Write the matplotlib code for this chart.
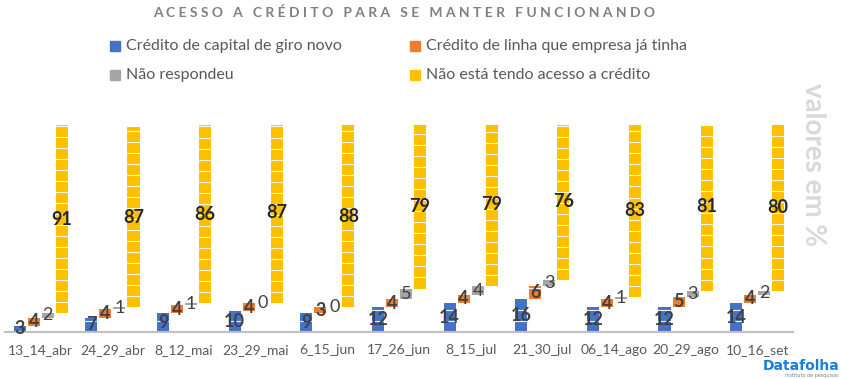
import matplotlib
matplotlib.use("Agg")
import matplotlib.pyplot as plt
from matplotlib.patches import Rectangle
import numpy as np

categories = ["13_14_abr", "24_29_abr", "8_12_mai", "23_29_mai", "6_15_jun", "17_26_jun",
              "8_15_jul", "21_30_jul", "06_14_ago", "20_29_ago", "10_16_set"]
capital_giro = [3, 7, 9, 10, 9, 12, 14, 16, 12, 12, 14]
linha_existente = [4, 4, 4, 4, 3, 4, 4, 6, 4, 5, 4]
nao_respondeu = [2, 1, 1, 0, 0, 5, 4, 3, 1, 3, 2]
sem_acesso = [91, 87, 86, 87, 88, 79, 79, 76, 83, 81, 80]

series_names = ["Crédito de capital de giro novo", "Crédito de linha que empresa já tinha",
                "Não respondeu", "Não está tendo acesso a crédito"]
colors = ["#4472C4", "#ED7D31", "#A5A5A5", "#FFC000"]

plt.rcParams['font.family'] = ['Lato', 'DejaVu Sans']

W, H = 841, 379
fig = plt.figure(figsize=(W / 100, H / 100), dpi=100)
ax = fig.add_axes([5 / W, (H - 332) / H, 788 / W, 207 / H])
ax.set_xlim(-0.5, len(categories) - 0.5)
ax.set_ylim(0, 100)

x = np.arange(len(categories))
step = 0.196
bw = 0.168
unit = 5.33  # picture stacking unit (decorative separators)

data = [capital_giro, linha_existente, nao_respondeu, sem_acesso]
bottom = np.zeros(len(categories))
for s, (vals, col) in enumerate(zip(data, colors)):
    vals = np.array(vals, dtype=float)
    xs = x + (s - 1.5) * step
    ax.bar(xs, vals, bw, bottom=bottom, color=col, edgecolor="none", zorder=2)
    for xi, b, v in zip(xs, bottom, vals):
        k = 1
        while k * unit < v - 0.3:
            ax.plot([xi - bw / 2, xi + bw / 2], [b + k * unit] * 2, color="white", lw=0.8,
                    alpha=0.9, zorder=3)
            k += 1
    for xi, b, v in zip(xs, bottom, vals):
        if s == 2:
            ax.text(xi, b + v / 2, f"{int(v)}", ha="center", va="center", fontsize=13,
                    color="#404040", fontweight="normal", zorder=5, clip_on=False)
        else:
            ax.text(xi, b + v / 2, f"{int(v)}", ha="center", va="center", fontsize=13,
                    color="#262626" if s == 3 else "#404040", fontweight="bold", zorder=5,
                    clip_on=False)
    bottom = bottom + vals

for sp in ["top", "right", "left"]:
    ax.spines[sp].set_visible(False)
ax.spines["bottom"].set_color("#BFBFBF")
ax.spines["bottom"].set_linewidth(1.5)
ax.set_yticks([])
ax.set_xticks(x)
ax.set_xticklabels(categories, fontsize=10, color="#595959")
ax.tick_params(axis="x", length=0, pad=9)

# title
fig.text(404 / W, 1 - 13 / H, "A C E S S O   A   C R É D I T O   P A R A   S E   M A N T E R   F U N C I O N A N D O",
         ha="center", va="center", fontsize=10, fontweight="bold", color="#7F7F7F")

# legend
leg_rows = [46, 75]
leg_pos = [(110, 126), (410, 426)]
for i, (name, col) in enumerate(zip(series_names, colors)):
    r, c = divmod(i, 2)
    yc = leg_rows[r]
    sx, tx = leg_pos[c]
    fig.patches.append(Rectangle((sx / W, 1 - (yc + 5) / H), 10 / W, 10 / H,
                                 transform=fig.transFigure, color=col, figure=fig))
    fig.text(tx / W, 1 - yc / H, name, ha="left", va="center", fontsize=11.5, color="#595959")

# right axis title
fig.text(813 / W, 1 - 165 / H, "valores em %", rotation=-90, ha="center", va="center",
         fontsize=20, fontweight="bold", color="#D9D9D9")

# logo
fig.text(839 / W, 1 - 366 / H, "Datafolha", ha="right", va="center", fontsize=10,
         fontweight="bold", color="#1A7FD6", family=["Liberation Sans Narrow", "DejaVu Sans"])
fig.text(839 / W, 1 - 376 / H, "instituto de pesquisas", ha="right", va="center", fontsize=3.5,
         color="#808080", family=["Liberation Sans Narrow", "DejaVu Sans"])

fig.savefig("out.png", dpi=100)
